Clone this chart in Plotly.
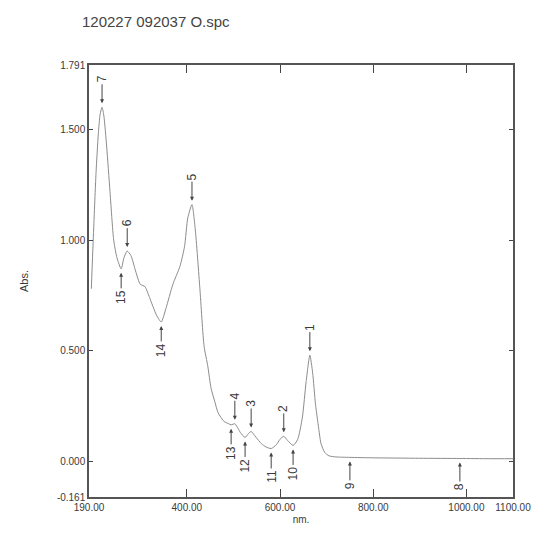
import plotly.graph_objects as go

# spectrum (nm, Abs.)
wavelength = [195, 200, 205, 210, 214, 218, 222, 228, 235, 243, 250, 259, 265, 272,
              280, 290, 300, 310, 320, 335, 345, 355, 370, 385, 395, 402, 411, 418,
              428, 437, 445, 452, 460, 467, 480, 490, 495, 503, 515, 525, 532, 538,
              548, 560, 570, 581, 592, 600, 608, 616, 628, 638, 648, 656, 664, 670,
              676, 681, 688, 696, 705, 720, 750, 800, 900, 986, 1050, 1100]
absorbance = [0.78, 1.05, 1.30, 1.48, 1.57, 1.60, 1.56, 1.42, 1.22, 1.00, 0.92, 0.87, 0.92, 0.95,
              0.93, 0.86, 0.80, 0.79, 0.74, 0.66, 0.63, 0.69, 0.80, 0.88, 0.97, 1.10, 1.16, 1.05,
              0.78, 0.52, 0.43, 0.33, 0.27, 0.22, 0.18, 0.17, 0.165, 0.17, 0.13, 0.108, 0.125, 0.135,
              0.11, 0.08, 0.065, 0.058, 0.075, 0.10, 0.113, 0.095, 0.072, 0.10, 0.20, 0.36, 0.48, 0.40,
              0.26, 0.18, 0.08, 0.04, 0.025, 0.02, 0.018, 0.016, 0.014, 0.013, 0.012, 0.012]

# peak / valley picks
peak_labels = ["1", "2", "3", "4", "5", "6", "7"]
peak_nm = [664, 608, 538, 503, 411, 272, 218]
peak_abs = [0.48, 0.113, 0.135, 0.17, 1.16, 0.95, 1.60]
valley_labels = ["8", "9", "10", "11", "12", "13", "14", "15"]
valley_nm = [986, 750, 628, 581, 525, 495, 345, 259]
valley_abs = [0.013, 0.018, 0.072, 0.058, 0.108, 0.165, 0.63, 0.87]

x_ticks = [190, 400, 600, 800, 1000, 1100]
x_ticktext = ["190.00", "400.00", "600.00", "800.00", "1000.00", "1100.00"]
y_ticks = [-0.161, 0.0, 0.5, 1.0, 1.5, 1.791]
y_ticktext = ["-0.161", "0.000", "0.500", "1.000", "1.500", "1.791"]

font_main = "Liberation Sans, Arial, sans-serif"
ink = "#3a3a3a"

fig = go.Figure()
fig.add_trace(
    go.Scatter(
        x=wavelength,
        y=absorbance,
        mode="lines",
        line=dict(color="#8c8c8c", width=1, shape="spline", smoothing=0.6),
        showlegend=False,
        hoverinfo="skip"
    )
)

annotations = []
for lab, xv, yv in zip(peak_labels, peak_nm, peak_abs):
    annotations.append(dict(
        x=xv, y=yv, text=lab, textangle=-90, showarrow=True,
        ax=0, ay=-28, arrowhead=2, arrowsize=0.8, arrowwidth=1,
        arrowcolor="#444", standoff=4, font=dict(size=12, color=ink, family=font_main)
    ))
for lab, xv, yv in zip(valley_labels, valley_nm, valley_abs):
    annotations.append(dict(
        x=xv, y=yv, text=lab, textangle=-90, showarrow=True,
        ax=0, ay=28, arrowhead=2, arrowsize=0.8, arrowwidth=1,
        arrowcolor="#444", standoff=4, font=dict(size=12, color=ink, family=font_main)
    ))

annotations.append(dict(
    text="120227 092037 O.spc", xref="paper", yref="paper",
    x=-0.021, y=1.0, yshift=44, xanchor="left", yanchor="middle", showarrow=False,
    font=dict(size=15, color="#444", family=font_main)
))

fig.update_layout(
    width=558,
    height=533,
    margin=dict(l=81, r=53, t=57, b=44),
    paper_bgcolor="white",
    plot_bgcolor="white",
    font=dict(family=font_main, size=10, color=ink),
    annotations=annotations,
    xaxis=dict(
        range=[190, 1100],
        tickvals=x_ticks,
        ticktext=x_ticktext,
        ticks="inside",
        ticklen=8,
        tickcolor="#444",
        showgrid=False,
        zeroline=False,
        showline=True,
        linecolor="#555",
        linewidth=1.5,
        mirror="ticks",
        title=dict(text="nm.", standoff=4, font=dict(size=10, color=ink)),
    ),
    yaxis=dict(
        range=[-0.161, 1.791],
        tickvals=y_ticks,
        ticktext=y_ticktext,
        ticks="inside",
        ticklen=4,
        tickcolor="#444",
        showgrid=False,
        zeroline=False,
        showline=True,
        linecolor="#555",
        linewidth=1.5,
        mirror="ticks",
        title=dict(text="Abs.", standoff=26, font=dict(size=11, color=ink)),
    ),
)

fig.write_html("out.html")
